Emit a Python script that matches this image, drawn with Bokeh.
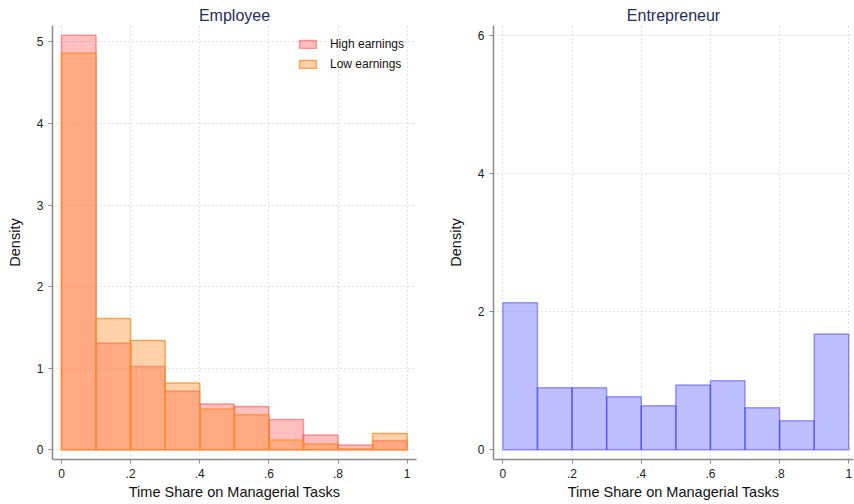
from bokeh.plotting import figure
from bokeh.layouts import row
from bokeh.models import Range1d, FixedTicker, Legend, LegendItem
from bokeh.embed import file_html
from bokeh.resources import INLINE

# ---- data ----
bin_left = [0.0, 0.1, 0.2, 0.3, 0.4, 0.5, 0.6, 0.7, 0.8, 0.9]
bin_right = [0.1, 0.2, 0.3, 0.4, 0.5, 0.6, 0.7, 0.8, 0.9, 1.0]
emp_high = [5.08, 1.31, 1.02, 0.72, 0.56, 0.53, 0.37, 0.18, 0.06, 0.11]
emp_low = [4.86, 1.61, 1.34, 0.82, 0.50, 0.43, 0.12, 0.07, 0.01, 0.20]
ent_all = [2.13, 0.90, 0.90, 0.77, 0.64, 0.94, 1.00, 0.61, 0.42, 1.68]
x_ticks = [0, 0.2, 0.4, 0.6, 0.8, 1.0]
x_tick_labels = ["0", ".2", ".4", ".6", ".8", "1"]
emp_y_ticks = [0, 1, 2, 3, 4, 5]
ent_y_ticks = [0, 2, 4, 6]

FONT = "Liberation Sans"
TITLE_COLOR = "#1f2d5c"
AXIS_COLOR = "#8c8c8c"
GRID_COLOR = "#c4c4c4"
HEIGHT = 504


def make_fig(title, width, xr, yr, yticks, border_left, border_right):
    p = figure(width=width, height=HEIGHT, output_backend="svg", toolbar_location=None,
               x_range=Range1d(*xr), y_range=Range1d(*yr),
               min_border_left=border_left, min_border_right=border_right,
               min_border_top=25, min_border_bottom=45)
    p.outline_line_color = None
    p.background_fill_color = "white"
    p.border_fill_color = "white"
    p.title.text = title
    p.title.align = "center"
    p.title.text_font = FONT
    p.title.text_font_size = "16px"
    p.title.text_font_style = "normal"
    p.title.text_color = TITLE_COLOR
    p.title.standoff = 4
    p.title.offset = 0

    p.xaxis.ticker = FixedTicker(ticks=x_ticks)
    p.xaxis.major_label_overrides = {t: l for t, l in zip(x_ticks, x_tick_labels)}
    p.yaxis.ticker = FixedTicker(ticks=yticks)
    p.xaxis.axis_label = "Time Share on Managerial Tasks"
    p.yaxis.axis_label = "Density"
    for ax in (p.xaxis, p.yaxis):
        ax.axis_line_color = AXIS_COLOR
        ax.axis_line_width = 1.5
        ax.major_tick_line_color = AXIS_COLOR
        ax.major_tick_out = 4
        ax.major_tick_in = 0
        ax.minor_tick_line_color = None
        ax.major_label_text_font = FONT
        ax.major_label_text_font_size = "12px"
        ax.major_label_text_color = "#222222"
        ax.major_label_standoff = 5
        ax.axis_label_text_font = FONT
        ax.axis_label_text_font_size = "14.5px"
        ax.axis_label_text_font_style = "normal"
        ax.axis_label_text_color = "#111111"
    p.xaxis.axis_label_standoff = 3
    p.yaxis.axis_label_standoff = 11
    p.yaxis.major_label_orientation = "horizontal"
    for g in (p.xgrid, p.ygrid):
        g.grid_line_color = GRID_COLOR
        g.grid_line_dash = "1 3"
        g.grid_line_width = 1
    return p


p1 = make_fig("Employee", 441, (-0.026, 1.027), (-0.119, 5.2), emp_y_ticks, 52, 25)
r_high = p1.quad(left=bin_left, right=bin_right, top=emp_high, bottom=0,
                 fill_color="#ff0000", fill_alpha=0.25,
                 line_color="#ff3030", line_alpha=0.45, line_width=1.5)
r_low = p1.quad(left=bin_left, right=bin_right, top=emp_low, bottom=0,
                fill_color="#ff8c28", fill_alpha=0.40,
                line_color="#ff8c28", line_alpha=0.75, line_width=1.5)
legend = Legend(items=[LegendItem(label="High earnings", renderers=[r_high]),
                       LegendItem(label="Low earnings", renderers=[r_low])],
                location="top_right")
legend.border_line_color = None
legend.background_fill_alpha = 0
legend.label_text_font = FONT
legend.label_text_font_size = "12px"
legend.label_text_color = "#111111"
legend.glyph_width = 21
legend.glyph_height = 10
legend.label_height = 14
legend.label_standoff = 12
legend.spacing = 6
legend.padding = 2
legend.margin = 12
p1.add_layout(legend)

p2 = make_fig("Entrepreneur", 413, (-0.027, 1.0136), (-0.14, 6.15), ent_y_ticks, 52, 1)
p2.quad(left=bin_left, right=bin_right, top=ent_all, bottom=0,
        fill_color="#0000ff", fill_alpha=0.25,
        line_color="#3030ff", line_alpha=0.45, line_width=1.5)

layout = row(p1, p2)
open("out.html", "w").write(file_html(layout, INLINE))
